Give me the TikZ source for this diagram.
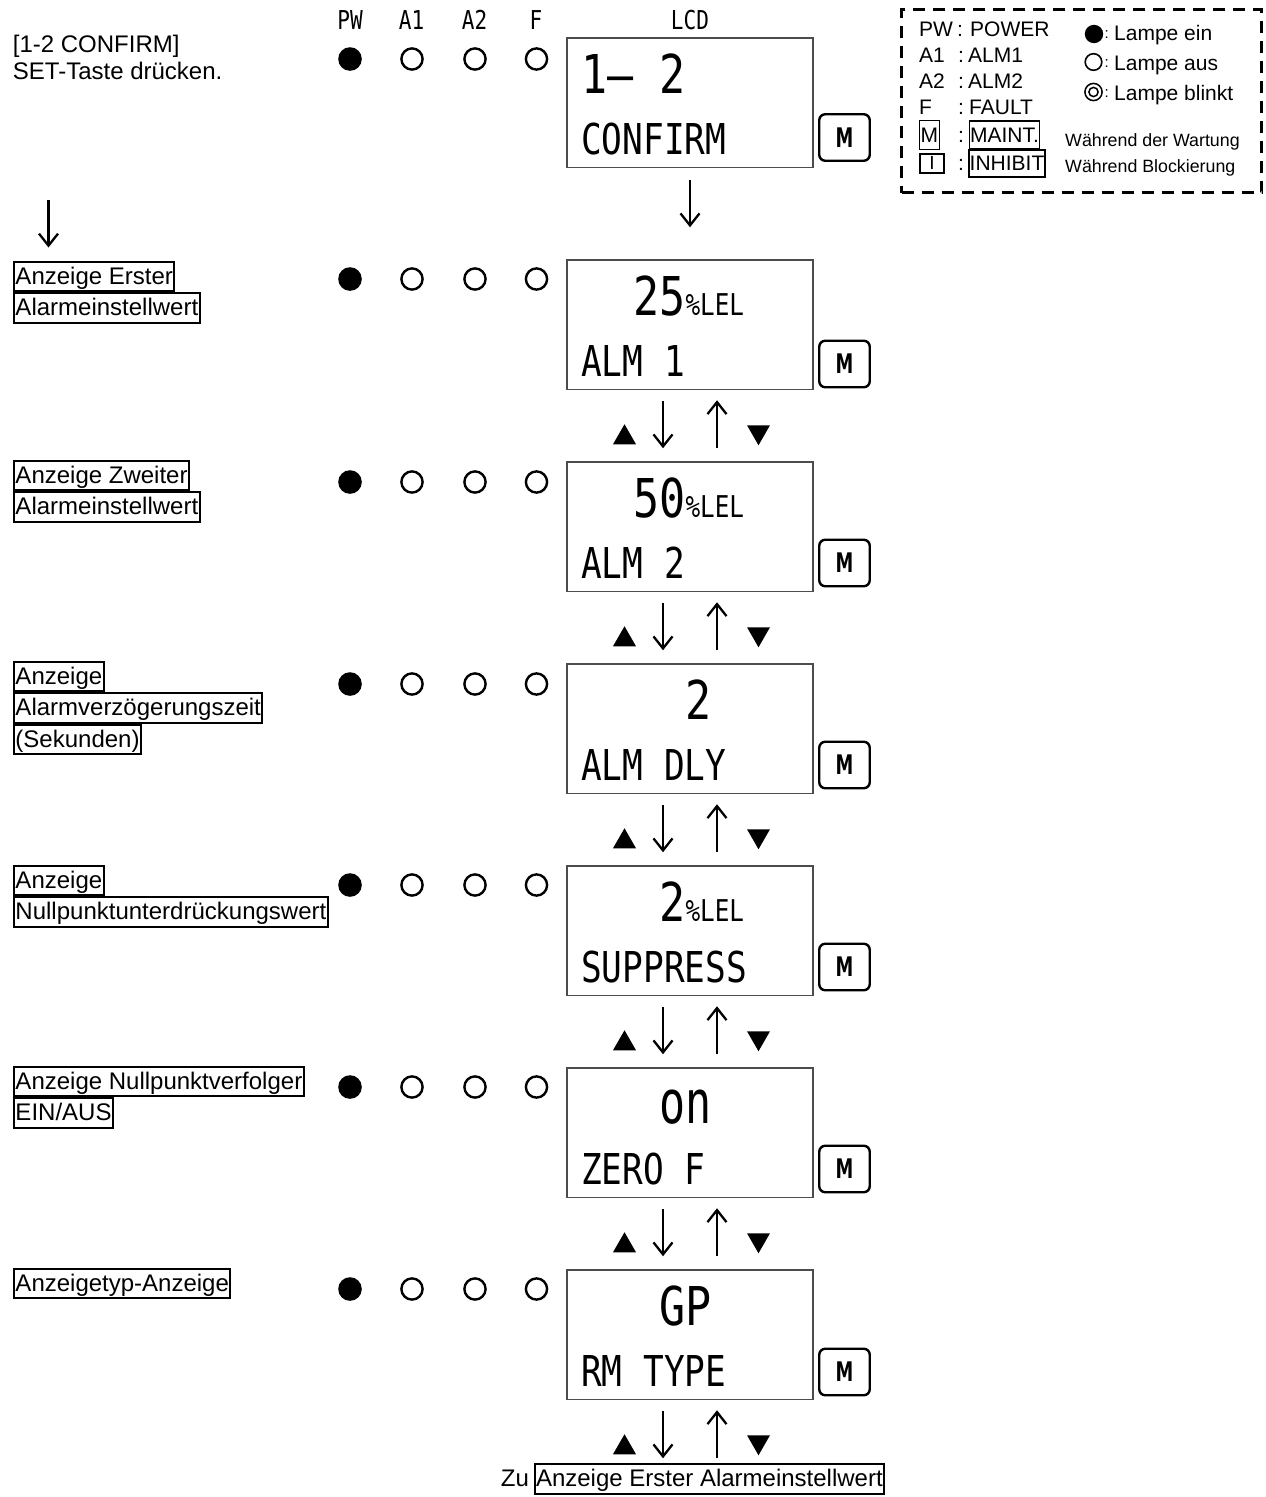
\documentclass[tikz,border=0pt]{standalone}
\usepackage{fontspec}
\usepackage{graphicx}
\setmainfont{Liberation Sans}
\newfontfamily\lcd[FakeStretch=0.81]{DejaVu Sans Mono}
\newfontfamily\mfont[FakeStretch=0.66]{DejaVu Sans}
\usetikzlibrary{arrows.meta}
\newcommand\fs[1]{\fontsize{#1}{#1}\selectfont}
\begin{document}
\begin{tikzpicture}[x=1pt,y=-1pt,
  lcdbox/.style={draw=black!70, line width=1.5pt, minimum width=246pt, minimum height=129.5pt, inner sep=0pt},
  lcdbig/.style={anchor=base west, inner sep=0pt, font=\lcd\fs{53.5}},
  lcdmid/.style={anchor=base west, inner sep=0pt, font=\lcd\fs{42.5}},
  lcdsml/.style={anchor=base west, inner sep=0pt, font=\lcd\fs{30}},
  hdr/.style={anchor=base, inner sep=0pt, font=\lcd\fs{26}},
  mbtn/.style={draw, line width=2.4pt, rounded corners=6pt, minimum width=50.5pt, minimum height=46.5pt, inner sep=0pt, font=\mfont\bfseries\fs{27}},
  lbl/.style={draw, line width=2pt, anchor=north west, inner xsep=1.5pt, inner ysep=0pt, text height=22.5pt, text depth=7pt, font=\fs{24}},
  plain/.style={anchor=base west, inner sep=0pt, font=\fs{24}},
  legtxt/.style={anchor=base west, inner sep=0pt, font=\fs{21}},
  legsmall/.style={anchor=base west, inner sep=0pt, font=\fs{17.8}},
  arr/.style={line width=2.3pt, -{Straight Barb[length=12pt, width=19pt]}},
  lampon/.style={fill=black},
  lampoff/.style={draw=black, line width=2.4pt}
]
\useasboundingbox (0,0) rectangle (1266,1497);

% ---------- header ----------
\node[hdr] (hpw) at (350,29) {PW};
\node[hdr] (ha1) at (411.5,29) {A1};
\node[hdr] (ha2) at (474.5,29) {A2};
\node[hdr] (hf) at (536,29) {F};
\node[hdr] (hlcd) at (690,29) {LCD};

% ---------- intro text ----------
\node[plain] (intro1) at (12.7,52.7) {[1-2 CONFIRM]};
\node[plain] (intro2) at (12.7,79.5) {SET-Taste drücken.};

% ---------- LCD boxes ----------
\foreach \i/\t in {1/38,2/260,3/462,4/664,5/866,6/1068,7/1270}{
  \node[lcdbox] (b\i) at (690,\t+64.75) {};
}
% ---------- M buttons ----------
\foreach \i/\y in {1/137.5,2/364,3/563,4/765,5/967,6/1169,7/1372}{
  \node[mbtn] (m\i) at (844.5,\y) {M};
}
% ---------- lamps ----------
\foreach \y in {59,279,482,684,885,1087,1289}{
  \fill[lampon] (350,\y) circle (11.8);
  \draw[lampoff] (412,\y) circle (10.6);
  \draw[lampoff] (475,\y) circle (10.6);
  \draw[lampoff] (536.5,\y) circle (10.6);
}

% ---------- LCD contents ----------
\node[lcdbig] (t1a) at (581,93.5) {1– 2};
\node[lcdmid] (t1b) at (581,154) {CONFIRM};

\node[lcdbig] (t2a) at (633.2,315.5) {25};
\node[lcdsml] (t2u) at (685.4,315.5) {\%LEL};
\node[lcdmid] (t2b) at (581,376) {ALM 1};

\node[lcdbig] (t3a) at (633.2,517.5) {50};
\node[lcdsml] (t3u) at (685.4,517.5) {\%LEL};
\node[lcdmid] (t3b) at (581,578) {ALM 2};

\node[lcdbig] (t4a) at (685.4,719.5) {2};
\node[lcdmid] (t4b) at (581,780) {ALM DLY};

\node[lcdbig] (t5a) at (659.3,921.5) {2};
\node[lcdsml] (t5u) at (685.4,921.5) {\%LEL};
\node[lcdmid] (t5b) at (581,982) {SUPPRESS};

\node[lcdbig] (t6a) at (659.3,1123.5) {\scalebox{1}[1.12]{on}};
\node[lcdmid] (t6b) at (581,1184) {ZERO F};

\node[lcdbig] (t7a) at (659.3,1325.5) {GP};
\node[lcdmid] (t7b) at (581,1386) {RM TYPE};

% ---------- arrows between boxes ----------
\draw[arr] ([yshift=-12pt]b1.south) -- ([yshift=32pt]b2.north);
\foreach \i in {2,...,7}{
  \draw[arr] ([shift={(-27,11)}]b\i.south) -- ([shift={(-27,58)}]b\i.south);
  \draw[arr] ([shift={(27,58)}]b\i.south) -- ([shift={(27,10)}]b\i.south);
  \fill ([shift={(-77,54)}]b\i.south) -- ([shift={(-54,54)}]b\i.south) -- ([shift={(-65.5,34)}]b\i.south) -- cycle;
  \fill ([shift={(57,35)}]b\i.south) -- ([shift={(80,35)}]b\i.south) -- ([shift={(68.5,55)}]b\i.south) -- cycle;
}

% ---------- left labels ----------
\node[lbl] (l1a) at (13,260.5) {Anzeige Erster\ };
\node[lbl] (l1b) at (l1a.south west) {Alarmeinstellwert};

\node[lbl] (l2a) at (13,459.5) {Anzeige Zweiter\ };
\node[lbl] (l2b) at (l2a.south west) {Alarmeinstellwert};

\node[lbl] (l3a) at (13,660.5) {Anzeige\ };
\node[lbl] (l3b) at (l3a.south west) {Alarmverzögerungszeit\ };
\node[lbl] (l3c) at (l3b.south west) {(Sekunden)};

\node[lbl] (l4a) at (13,864.5) {Anzeige\ };
\node[lbl] (l4b) at (l4a.south west) {Nullpunktunterdrückungswert};

\node[lbl] (l5a) at (13,1065.5) {Anzeige Nullpunktverfolger\ };
\node[lbl] (l5b) at (l5a.south west) {EIN/AUS};

\node[lbl] (l6a) at (13,1267.5) {Anzeigetyp-Anzeige};

\coordinate (la1) at (48.5,200);
\draw[arr] (la1) -- ([yshift=13pt]l1a.north west -| la1);

% ---------- bottom ----------
\node[plain] (zu) at (500.7,1486.7) {Zu};
\node[lbl, anchor=base west] (zub) at (533.5,1486.7) {Anzeige Erster Alarmeinstellwert};

% ---------- legend ----------
\node[draw, line width=3pt, dash pattern=on 12pt off 8pt, minimum width=360pt, minimum height=183.4pt, inner sep=0pt] (leg) at (1081.7,101) {};

\node[legtxt] (kpw) at (919,36.7) {PW};
\node[legtxt] (cpw) at (957,36.7) {:};
\node[legtxt] (vpw) at (970,36.7) {POWER};
\node[legtxt] (ka1) at (919,62.5) {A1};
\node[legtxt] (ca1) at (958,62.5) {:};
\node[legtxt] (va1) at (968,62.5) {ALM1};
\node[legtxt] (ka2) at (919,88.3) {A2};
\node[legtxt] (ca2) at (958,88.3) {:};
\node[legtxt] (va2) at (968,88.3) {ALM2};
\node[legtxt] (kf) at (919,114) {F};
\node[legtxt] (cf) at (958,114) {:};
\node[legtxt] (vf) at (969,114) {FAULT};

\node[draw, line width=1.5pt, minimum width=20pt, minimum height=28.6pt, inner sep=0pt, font=\fs{21}] (km) at (929.3,135) {M};
\node[legtxt] (cm) at (958,142) {:};
\node[draw, line width=1.8pt, inner xsep=0.5pt, inner ysep=0pt, minimum height=28.6pt, font=\fs{21}] (vm) at (1004.5,135) {MAINT.};
\node[draw, line width=2.6pt, minimum width=24pt, minimum height=19pt, inner sep=0pt, font=\fs{19}] (ki) at (932,163.4) {I};
\node[legtxt] (ci) at (958,170) {:};
\node[draw, line width=1.8pt, inner xsep=0.5pt, inner ysep=0pt, minimum height=26.7pt, font=\fs{21}] (vi) at (1007,163.4) {INHIBIT};

\fill (1094,34) circle (9.2);
\draw[line width=1.6pt] (1093.5,62) circle (8.3);
\draw[line width=1.5pt] (1093.5,92) circle (8.6);
\draw[line width=1.5pt] (1093.5,92) circle (4.6);
\node[anchor=base west, inner sep=0pt, font=\fs{15}] (co1) at (1104.5,38) {:};
\node[anchor=base west, inner sep=0pt, font=\fs{15}] (co2) at (1104.5,67) {:};
\node[anchor=base west, inner sep=0pt, font=\fs{15}] (co3) at (1104.5,97) {:};
\node[legtxt] (lon) at (1114,40.7) {Lampe ein};
\node[legtxt] (loff) at (1114,70) {Lampe aus};
\node[legtxt] (lbl) at (1114,100) {Lampe blinkt};
\node[legsmall] (wm) at (1065,146) {Während der Wartung};
\node[legsmall] (wi) at (1065,172) {Während Blockierung};
\end{tikzpicture}
\end{document}
